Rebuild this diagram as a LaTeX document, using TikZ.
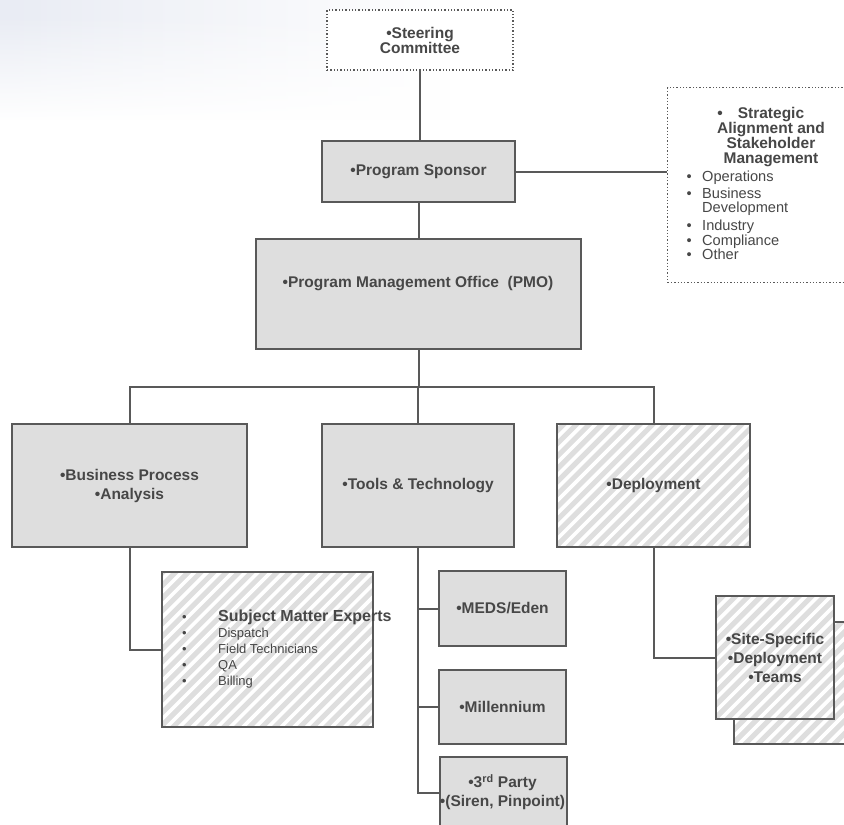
\documentclass[tikz,border=0pt]{standalone}
\usepackage{fontspec}
\setmainfont{Liberation Sans}
\usetikzlibrary{fadings}
\definecolor{boxfill}{HTML}{DEDEDE}
\definecolor{boxline}{HTML}{595959}
\definecolor{txt}{HTML}{474747}
\definecolor{bgtint}{HTML}{E9ECF4}
\newcommand\labfont{\fontsize{15.5}{19}\selectfont\bfseries}
\tikzset{
  box/.style={draw=boxline, line width=2pt, fill=boxfill, inner sep=0pt, align=center, text=txt, font=\labfont},
  dotbox/.style={draw=boxline, line width=1.3pt, dotted, fill=white, inner sep=0pt, align=center, text=txt, font=\labfont},
  hatched/.style={box, path picture={
      \foreach \i in {-300,-287.3,...,300}
        \draw[white, line width=3.6pt, solid] ([xshift=\i*1pt]path picture bounding box.south west) -- ++(400pt,400pt);}},
  conn/.style={draw=boxline, line width=2pt},
  txtblock/.style={text=txt, inner sep=0pt},
}
\begin{document}
\begin{tikzpicture}[x=1pt, y=-1pt]
\clip (0,0) rectangle (844,825);
\fill[white] (0,0) rectangle (844,825);
% faint background tint, top left
\fill[bgtint, path fading=east] (0,0) rectangle (450,120);
\fill[white, path fading=north] (0,15) rectangle (450,122);

% top
\node[dotbox, minimum width=186pt, minimum height=60pt, font=\fontsize{15.5}{15}\selectfont\bfseries] (steer) at (420,40) {•Steering\\Committee};
\node[box, minimum width=193pt, minimum height=61pt] (sponsor) at (418.5,171.5) {•Program Sponsor};

\node[dotbox, minimum width=183pt, minimum height=195pt, anchor=north west] (strat) at (667,87) {};
\node[txtblock, font=\fontsize{15.5}{15}\selectfont\bfseries, align=center] (strattitle) at (771,137)
  {\llap{•\hspace{15pt}}Strategic\\Alignment and\\Stakeholder\\Management};
\node[txtblock, font=\fontsize{14.6}{14}\selectfont, align=left, anchor=west] (stratitems) at (702,215)
  {\llap{•\hspace{10.5pt}}Operations\\[3pt]
   \llap{•\hspace{10.5pt}}Business\\Development\\[4pt]
   \llap{•\hspace{10.5pt}}Industry\\[1pt]
   \llap{•\hspace{10.5pt}}Compliance\\
   \llap{•\hspace{10.5pt}}Other};

\node[box, minimum width=325pt, minimum height=110pt] (pmo) at (418.5,294) {};
\node[txtblock, font=\labfont] (pmotext) at (418,284) {•Program Management Office\ \ (PMO)};

% second level
\node[box, minimum width=235pt, minimum height=123pt] (bpa) at (129.5,485.5) {•Business Process\\•Analysis};
\node[box, minimum width=192pt, minimum height=123pt] (tools) at (418,485.5) {•Tools \& Technology};
\node[hatched, minimum width=193pt, minimum height=123pt] (deploy) at (653.5,485.5) {•Deployment};

% third level
\node[hatched, minimum width=211pt, minimum height=155pt] (sme) at (267.5,649.5) {};
\node[txtblock, font=\fontsize{13}{16}\selectfont, align=left, anchor=west] (smetext) at (218,649)
  {{\fontsize{16}{16}\selectfont\bfseries\llap{\mdseries\fontsize{13}{16}\selectfont •\hspace{31.5pt}}Subject Matter Experts}\\
   \llap{•\hspace{31.5pt}}Dispatch\\
   \llap{•\hspace{31.5pt}}Field Technicians\\
   \llap{•\hspace{31.5pt}}QA\\
   \llap{•\hspace{31.5pt}}Billing};

\node[box, minimum width=127pt, minimum height=75pt] (meds) at (502.5,608.5) {•MEDS/Eden};
\node[box, minimum width=127pt, minimum height=74pt] (mill) at (502.5,707) {•Millennium};
\node[box, minimum width=127pt, minimum height=80pt, anchor=north west] (third) at (439,756) {};
\node[txtblock, font=\labfont, align=center] (thirdtext) at (502.5,792.5) {•3\textsuperscript{rd} Party\\•(Siren, Pinpoint)};

\node[hatched, minimum width=118pt, minimum height=122pt, anchor=north west] (siteback) at (733,621) {};
\node[hatched, minimum width=118pt, minimum height=123pt] (site) at (775,657.5) {•Site-Specific\\•Deployment\\•Teams};

% connectors
\coordinate (bus) at (418.5,387);
\coordinate (tend) at (418,793);
\draw[conn] (steer.south) -- (steer.south |- sponsor.north);
\draw[conn] (sponsor.east) -- (sponsor.east -| strat.west);
\draw[conn] (sponsor.south) -- (pmo.north);
\draw[conn] (pmo.south) -- (bus);
\draw[conn] (bpa.north) -- (bpa.north |- bus) -- (deploy.north |- bus) -- (deploy.north);
\draw[conn] (tools.north) -- (tools.north |- bus);
\draw[conn] (bpa.south) |- (sme.west);
\draw[conn] (tools.south) -- (tend) -- (tend -| third.west);
\draw[conn] (tools.south |- meds.west) -- (meds.west);
\draw[conn] (tools.south |- mill.west) -- (mill.west);
\draw[conn] (deploy.south) |- (site.west);
\end{tikzpicture}
\end{document}
